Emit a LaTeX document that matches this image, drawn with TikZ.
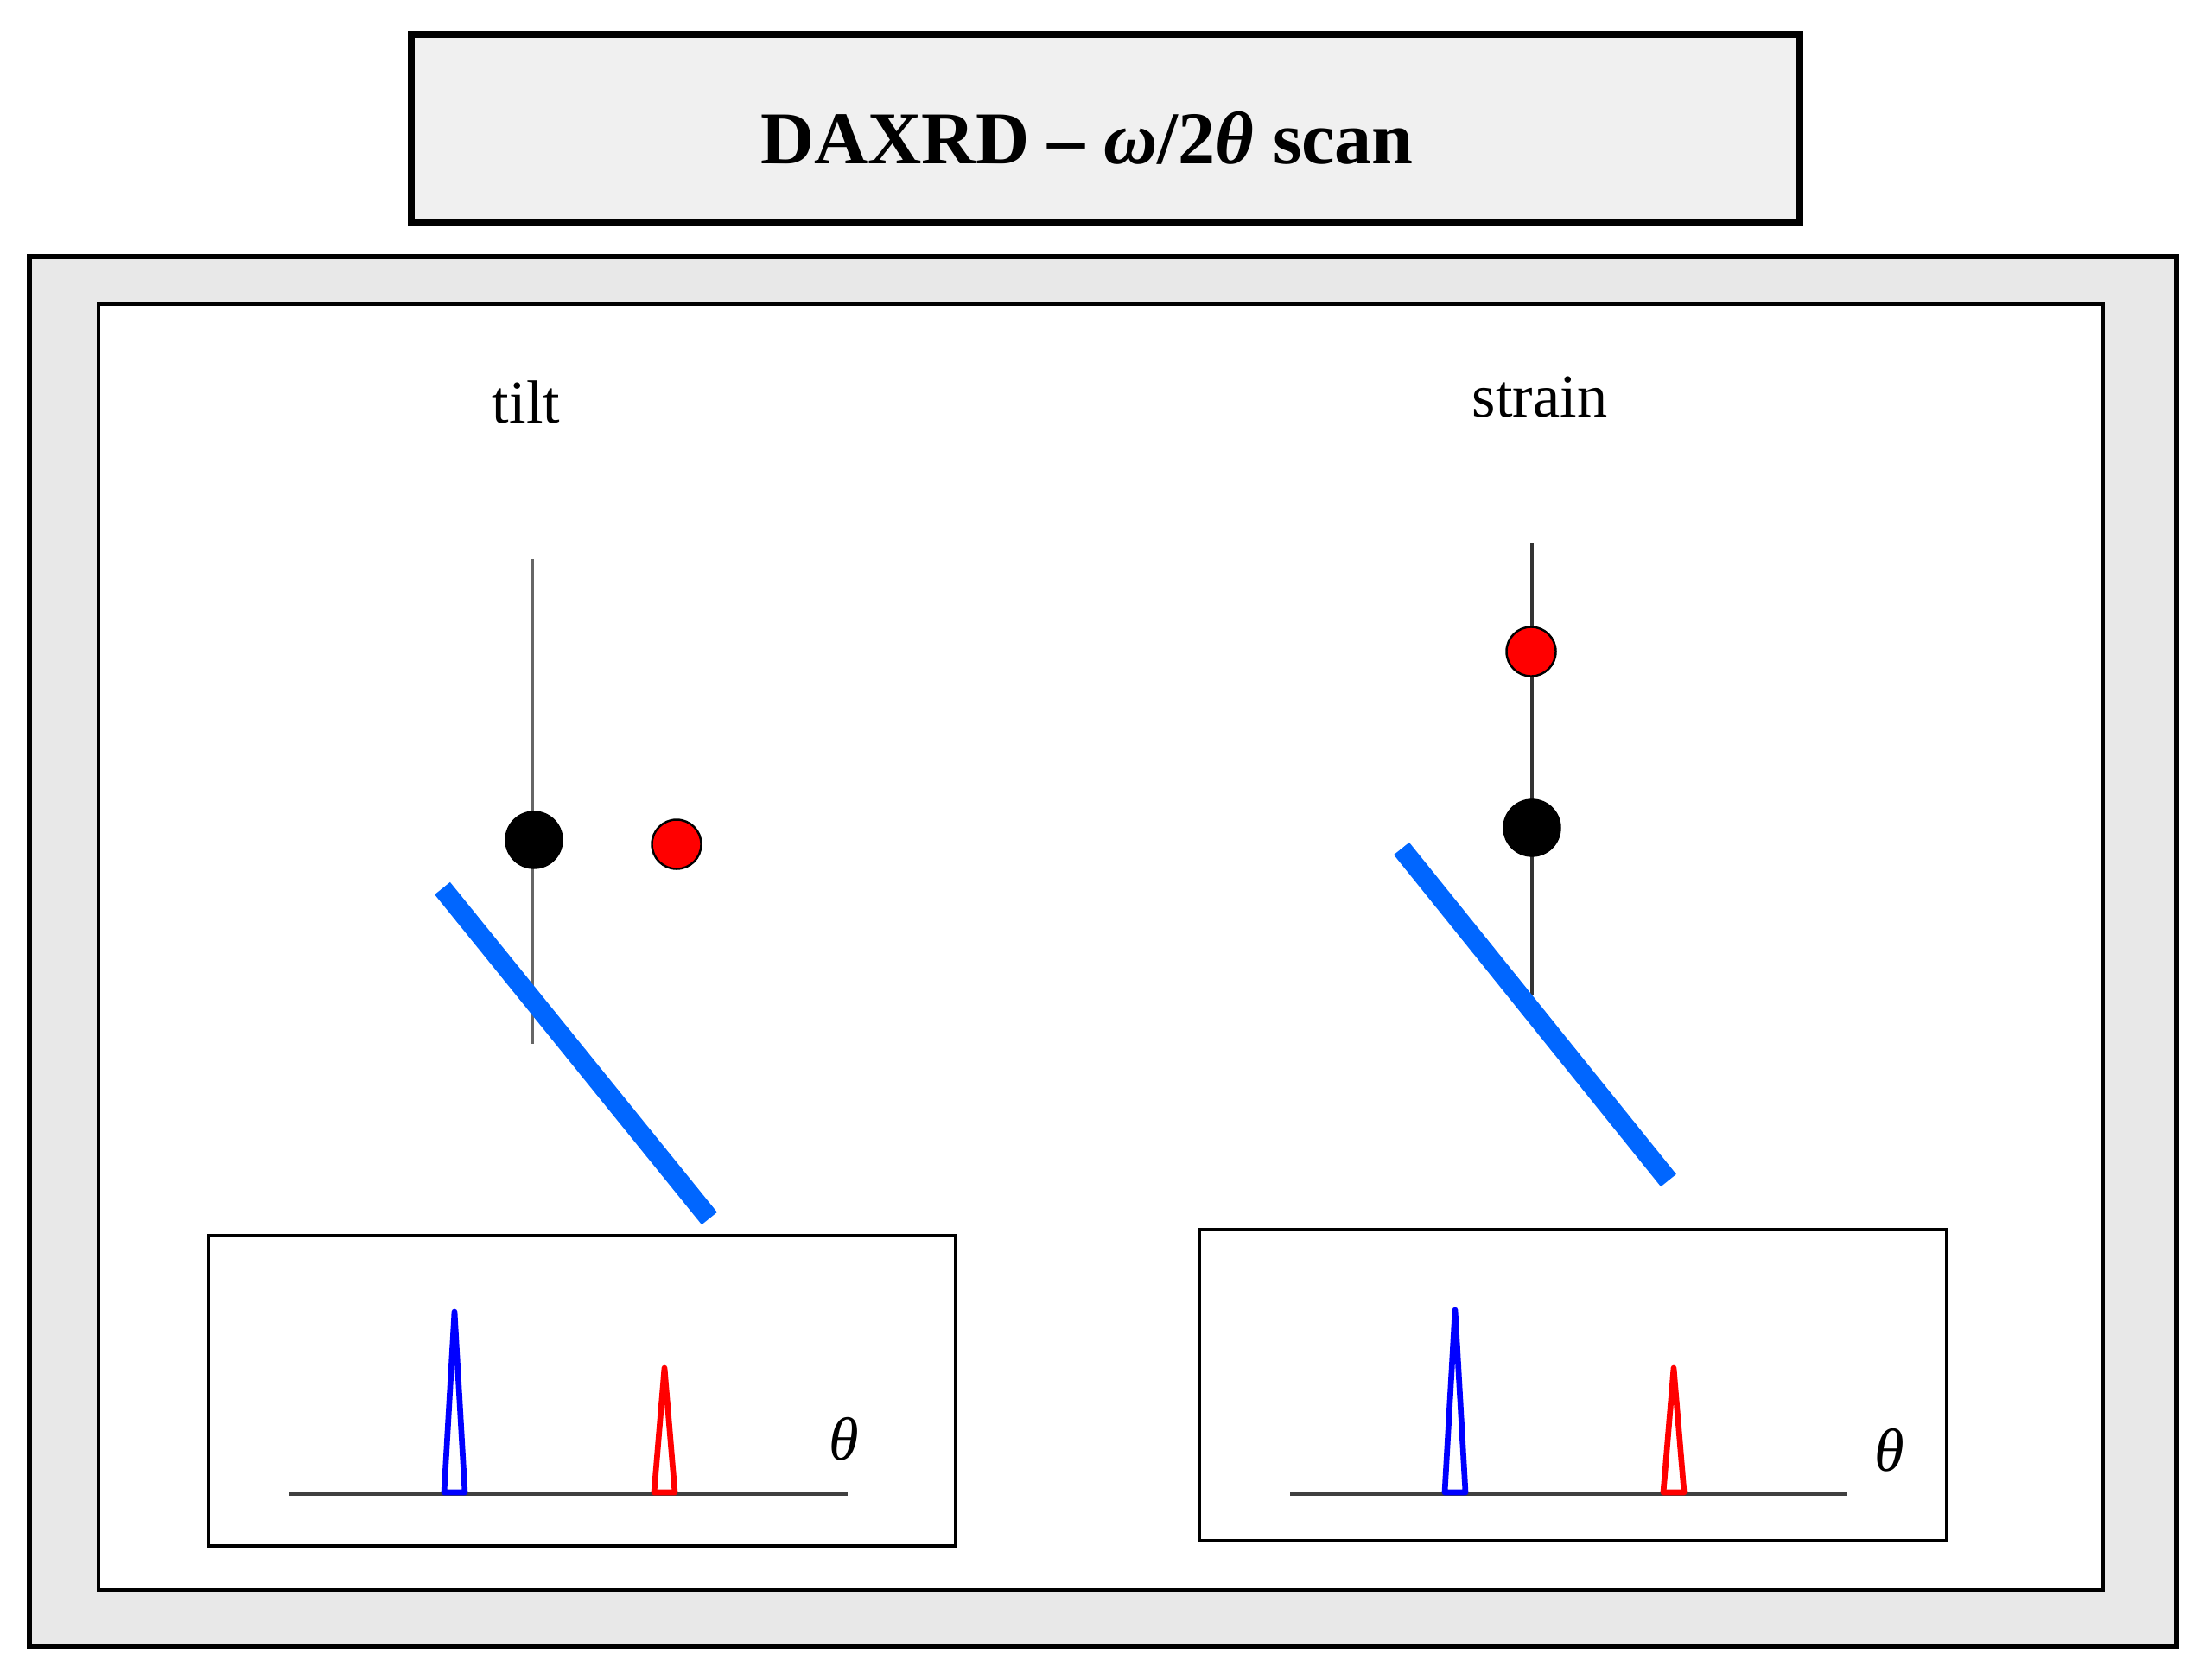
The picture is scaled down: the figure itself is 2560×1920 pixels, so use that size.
\documentclass[tikz,border=0pt]{standalone}
\usepackage{fontspec}
\setmainfont{Liberation Serif}
\definecolor{titlefill}{HTML}{F0F0F0}
\definecolor{outerfill}{HTML}{E8E8E8}
\definecolor{barblue}{RGB}{0,102,255}
\definecolor{pkblue}{RGB}{0,0,255}
\definecolor{pkred}{RGB}{255,0,0}
\tikzset{
  panelbox/.style={draw=black, line width=1pt, fill=white},
  axisline/.style={draw=black!75, line width=1.1pt},
  normline/.style={line width=0.9pt},
  sample/.style={draw=barblue, line width=6.5pt, line cap=butt},
  peakblue/.style={draw=pkblue, line width=1.9pt, line join=round},
  peakred/.style={draw=pkred, line width=1.9pt, line join=round},
  dotblack/.style={circle, fill=black, draw=black, line width=0.4pt, minimum size=0.66cm, inner sep=0pt},
  dotred/.style={circle, fill=pkred, draw=black, line width=0.7pt, minimum size=0.57cm, inner sep=0pt},
  lbl/.style={font=\fontsize{20}{24}\selectfont, inner sep=0pt, anchor=base},
  thetalbl/.style={font=\fontsize{20}{24}\selectfont\itshape, inner sep=0pt},
}
\begin{document}
\begin{tikzpicture}[x=0.01cm, y=-0.01cm]
\useasboundingbox (0,0) rectangle (2560,1920);
% title box
\draw[fill=titlefill, line width=2.2pt] (476,40) rectangle (2083,258);
\node[font=\fontsize{24.5}{28}\selectfont\bfseries, inner sep=0pt, anchor=base] (title) at (1258,189)
  {DAXRD – \textit{ω}/2\textit{θ} scan};
% outer frames
\draw[fill=outerfill, line width=1.6pt] (34,297) rectangle (2519,1905);
\draw[fill=white, line width=1.4pt] (114,352) rectangle (2434,1840);
% labels
\node[lbl] (tilt) at (609,489) {tilt};
\node[lbl] (strain) at (1782,482) {strain};
% left (tilt) construction
\coordinate (ltop) at (616,647);
\coordinate (lbot) at (616,1208);
\draw[normline, draw=black!60] (ltop) -- (lbot);
\coordinate (lbarA) at (512,1028);
\coordinate (lbarB) at (821,1410);
\draw[sample] (lbarA) -- (lbarB);
\node[dotblack] (lblack) at (618,972) {};
\node[dotred] (lred) at (783,977) {};
% right (strain) construction
\coordinate (rtop) at (1773,628);
\coordinate (rbot) at (1773,1152);
\draw[normline, draw=black!80] (rtop) -- (rbot);
\coordinate (rbarA) at (1622,982);
\coordinate (rbarB) at (1931,1366);
\draw[sample] (rbarA) -- (rbarB);
\node[dotred] (rred) at (1772,754) {};
\node[dotblack] (rblack) at (1773,958) {};
% left scan panel
\draw[panelbox] (241,1430) rectangle (1106,1789);
\coordinate (lax1) at (335,1729);
\coordinate (lax2) at (981,1729);
\draw[axisline] (lax1) -- (lax2);
\draw[peakblue] (514,1727) -- (526,1518) -- (538,1727) -- cycle;
\draw[peakred] (757,1727) -- (769,1583) -- (781,1727) -- cycle;
\node[thetalbl] (ltheta) at (977,1665) {θ};
% right scan panel
\draw[panelbox] (1388,1423) rectangle (2253,1783);
\coordinate (rax1) at (1493,1729);
\coordinate (rax2) at (2138,1729);
\draw[axisline] (rax1) -- (rax2);
\draw[peakblue] (1672,1727) -- (1684,1516) -- (1696,1727) -- cycle;
\draw[peakred] (1925,1727) -- (1937,1583) -- (1949,1727) -- cycle;
\node[thetalbl] (rtheta) at (2187,1678) {θ};
\end{tikzpicture}
\end{document}
